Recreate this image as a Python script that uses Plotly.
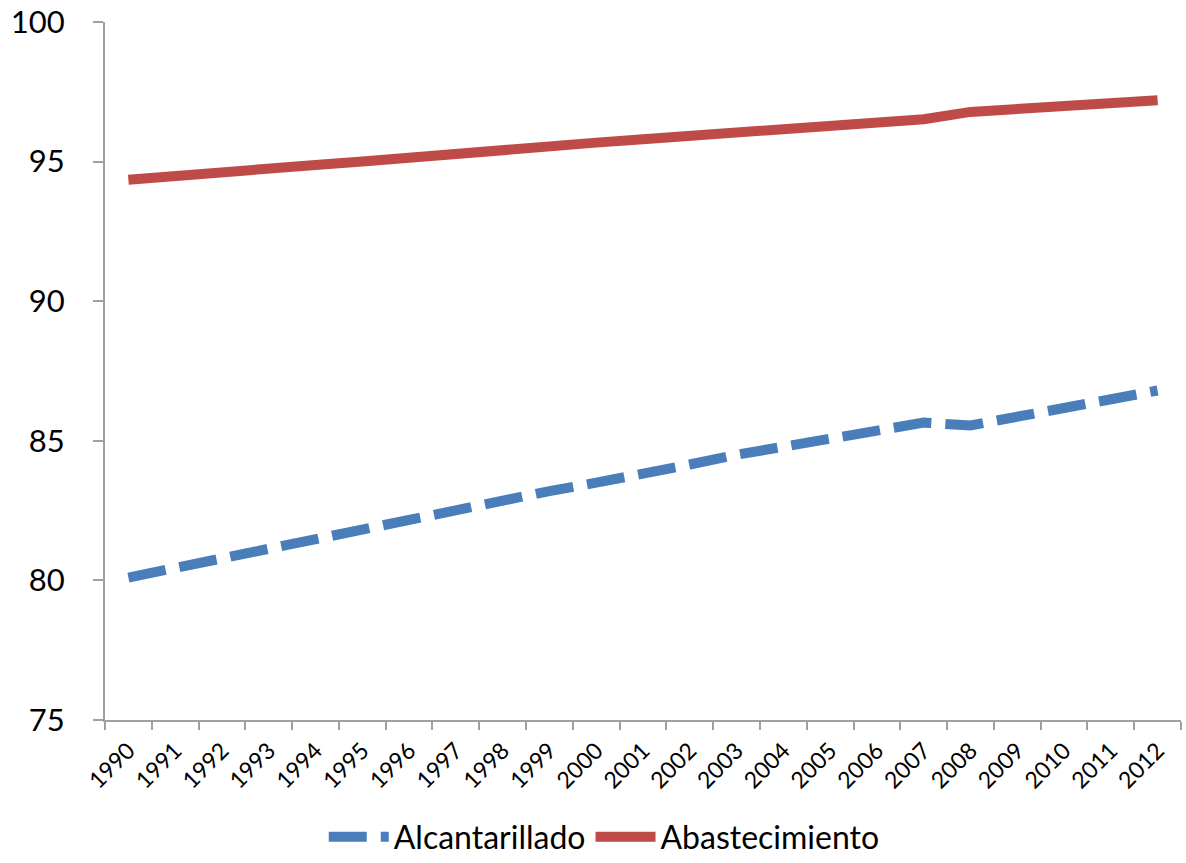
import plotly.graph_objects as go

years = [str(y) for y in range(1990, 2013)]
alcantarillado = [80.1, 80.45, 80.8, 81.15, 81.5, 81.8, 82.15, 82.5, 82.85, 83.2, 83.5, 83.8,
                  84.15, 84.5, 84.8, 85.1, 85.4, 85.65, 85.55, 85.85, 86.15, 86.5, 86.8]
abastecimiento = [94.35, 94.5, 94.6, 94.75, 94.88, 95.0, 95.15, 95.25, 95.4, 95.55, 95.68, 95.8,
                  95.92, 96.05, 96.17, 96.3, 96.42, 96.52, 96.78, 96.9, 97.02, 97.1, 97.2]

FONT = "Lato, Calibri, Carlito, sans-serif"

fig = go.Figure()
fig.add_trace(go.Scatter(x=years, y=alcantarillado, mode="lines", name="Alcantarillado",
                         line=dict(color="#4a7ebb", width=10, dash="38px,14px")))
fig.add_trace(go.Scatter(x=years, y=abastecimiento, mode="lines", name="Abastecimiento",
                         line=dict(color="#be4b48", width=10)))

fig.update_layout(
    width=1186, height=863,
    margin=dict(l=105, r=5, t=22, b=143, autoexpand=False),
    plot_bgcolor="white", paper_bgcolor="white",
    font=dict(family=FONT, color="black"),
    showlegend=True,
    legend=dict(orientation="h", x=0.464, xanchor="center", y=-0.128, yanchor="top",
                font=dict(size=32, family=FONT), itemwidth=60, traceorder="normal"),
)
fig.update_xaxes(type="category", tickangle=-45, tickfont=dict(size=23, family=FONT),
                 showline=True, linecolor="#a0a0a0", linewidth=2, ticks="outside",
                 tickson="boundaries", ticklen=8, tickcolor="#a0a0a0", tickwidth=2,
                 showgrid=False, zeroline=False, range=[-0.5, 22.5], automargin=False,
                 ticklabelstandoff=6)
fig.update_yaxes(range=[75, 100], dtick=5, tickfont=dict(size=31, family=FONT),
                 showline=True, linecolor="#a0a0a0", linewidth=2, ticks="outside",
                 ticklen=10, tickcolor="#a0a0a0", tickwidth=2, showgrid=False, zeroline=False,
                 ticklabelstandoff=22, automargin=False, ticklabeloverflow="allow")

fig.write_html("out.html", config={"displayModeBar": False},
               post_script="document.body.style.margin='0';")
